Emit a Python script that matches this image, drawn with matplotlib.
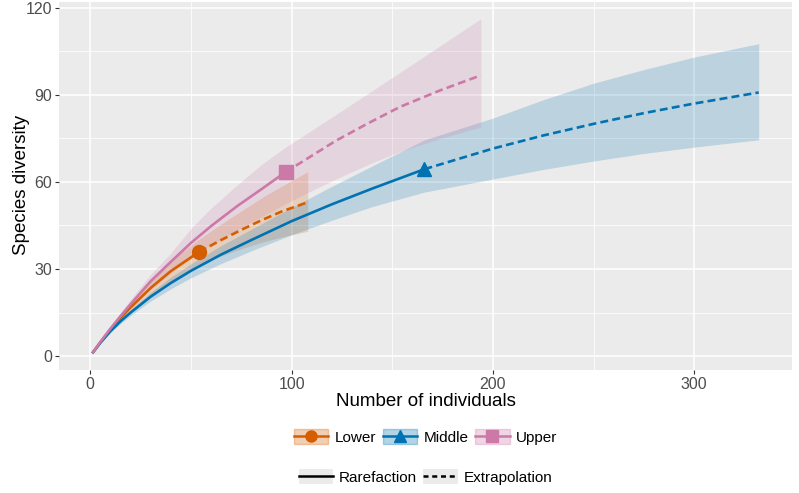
import numpy as np
import matplotlib
matplotlib.use("Agg")
import matplotlib.pyplot as plt
from matplotlib.lines import Line2D
from matplotlib.patches import Patch
from matplotlib.legend_handler import HandlerTuple

plt.rcParams['font.family'] = ['Liberation Sans', 'DejaVu Sans']

# Lower (orange)
low_x = [1, 5, 10, 15, 20, 30, 40, 54]
low_y = [1, 4.8, 9.2, 13.2, 16.8, 23.5, 29.3, 35.9]
low_lo = [1, 4.6, 8.6, 12.2, 15.3, 21.0, 25.8, 31.5]
low_hi = [1, 5.0, 9.8, 14.2, 18.3, 26.0, 32.8, 40.3]
low_ext_x = [54, 65, 75, 85, 95, 108]
low_ext_y = [35.9, 40, 43.5, 46.8, 49.8, 53]
low_ext_lo = [31.5, 34.5, 37, 39.2, 41, 43]
low_ext_hi = [40.3, 45.5, 50, 54.5, 58.5, 63.5]

# Middle (blue)
mid_x = [1, 5, 10, 15, 20, 30, 40, 50, 65, 80, 100, 120, 140, 166]
mid_y = [1, 4.6, 8.6, 12, 15, 20.5, 25.2, 29.4, 35, 40, 46.5, 52.3, 57.7, 64.4]
mid_lo = [1, 4.4, 8.1, 11.2, 14, 19, 23.2, 27, 31.9, 36.3, 41.8, 46.8, 51.5, 56.5]
mid_hi = [1, 4.8, 9.1, 12.8, 16, 22, 27.2, 31.8, 38.1, 43.7, 51.2, 58.5, 65.5, 74.5]
mid_ext_x = [166, 200, 225, 250, 275, 300, 332]
mid_ext_y = [64.4, 71.5, 76, 80, 83.7, 87, 90.8]
mid_ext_lo = [56.5, 61, 64.3, 67.2, 69.8, 72, 74.5]
mid_ext_hi = [74.5, 82, 88.3, 94, 98.7, 103, 107.6]

# Upper (pink)
up_x = [1, 5, 10, 15, 20, 30, 40, 50, 60, 73, 85, 97]
up_y = [1, 4.9, 9.5, 13.8, 17.9, 25.8, 32.5, 39, 44.8, 51.7, 57.5, 63.4]
up_lo = [1, 4.7, 8.9, 12.7, 16.3, 23, 28.5, 33.7, 38.2, 43.5, 48, 52.5]
up_hi = [1, 5.1, 10.1, 14.9, 19.5, 28.2, 35.5, 44, 51, 59, 66, 72]
up_ext_x = [97, 110, 122, 138, 154, 174, 194]
up_ext_y = [63.4, 69, 74.2, 80.2, 85.9, 91.6, 96.7]
up_ext_lo = [52.5, 57, 61, 66, 70.5, 75, 78.9]
up_ext_hi = [72, 77.8, 83.2, 90.5, 97.8, 107, 116.2]

names = ['Lower', 'Middle', 'Upper']
colors = ['#D55E00', '#0072B2', '#CC79A7']
markers = ['o', '^', 's']

series = [
    (low_x, low_y, low_lo, low_hi, low_ext_x, low_ext_y, low_ext_lo, low_ext_hi),
    (mid_x, mid_y, mid_lo, mid_hi, mid_ext_x, mid_ext_y, mid_ext_lo, mid_ext_hi),
    (up_x, up_y, up_lo, up_hi, up_ext_x, up_ext_y, up_ext_lo, up_ext_hi),
]

fig = plt.figure(figsize=(7.99, 4.93), dpi=100)
ax = fig.add_axes([59 / 799, 1 - 370 / 493, 733 / 799, 368 / 493])
ax.set_facecolor('#EBEBEB')
for s in ax.spines.values():
    s.set_visible(False)

for (x, y, lo, hi, ex, ey, elo, ehi), c, m in zip(series, colors, markers):
    bx = x + ex[1:]
    ax.fill_between(bx, lo + elo[1:], hi + ehi[1:], color=c, alpha=0.2, lw=0, zorder=2)
    ax.plot(x, y, color=c, lw=1.9, solid_capstyle='butt', zorder=3)
    ax.plot(ex, ey, color=c, lw=1.9, dashes=(3.0, 1.6), zorder=3)
    ax.plot(x[-1], y[-1], marker=m, color=c, ms=10, zorder=4)

# ggplot-style expansion
all_x = [v for s in series for v in s[0] + s[4]]
all_y = [v for s in series for v in s[2] + s[3] + s[6] + s[7]]
xr = max(all_x) - min(all_x)
yr = max(all_y) - min(all_y)
ax.set_xlim(min(all_x) - 0.05 * xr, max(all_x) + 0.05 * xr)
ax.set_ylim(min(all_y) - 0.05 * yr, max(all_y) + 0.05 * yr)

ax.set_xticks([0, 100, 200, 300])
ax.set_xticks([50, 150, 250], minor=True)
ax.set_yticks([0, 30, 60, 90, 120])
ax.set_yticks([15, 45, 75, 105], minor=True)
ax.grid(True, which='major', color='white', lw=1.1, zorder=0)
ax.grid(True, which='minor', color='white', lw=0.55, zorder=0)
ax.set_axisbelow(True)
ax.tick_params(which='major', length=3, width=0.8, color='#333333',
               labelsize=11.5, labelcolor='#4D4D4D', pad=2)
ax.tick_params(which='minor', length=0)

fig.text(425.5 / 799, 1 - 401 / 493, 'Number of individuals', ha='center', va='center', fontsize=13.5)
fig.text(22 / 799, 1 - 185 / 493, 'Species diversity', ha='center', va='center',
         rotation=90, fontsize=13.5)

# legend row 1: groups
h1 = []
for c, m in zip(colors, markers):
    h1.append((Patch(facecolor=c, alpha=0.3, edgecolor=c, lw=1.0),
               Line2D([], [], color=c, lw=1.8, marker=m, ms=8)))
leg1 = fig.legend(h1, names, loc='center', bbox_to_anchor=(425.5 / 799, 1 - 437 / 493),
                  ncol=3, frameon=False, fontsize=11, handlelength=2.25, handleheight=1.1,
                  handletextpad=0.4, columnspacing=0.45, borderpad=0,
                  handler_map={tuple: HandlerTuple(ndivide=1)})

# legend row 2: method
h2 = [(Patch(facecolor='#EBEBEB', edgecolor='none'), Line2D([], [], color='black', lw=1.8)),
      (Patch(facecolor='#EBEBEB', edgecolor='none'), Line2D([], [], color='black', lw=1.8, dashes=(2, 1.5)))]
leg2 = fig.legend(h2, ['Rarefaction', 'Extrapolation'], loc='center',
                  bbox_to_anchor=(425.5 / 799, 1 - 477 / 493), ncol=2, frameon=False,
                  fontsize=11, handlelength=2.25, handleheight=1.1, handletextpad=0.4,
                  columnspacing=0.4, borderpad=0,
                  handler_map={tuple: HandlerTuple(ndivide=1)})

fig.savefig('out.png', dpi=100)
